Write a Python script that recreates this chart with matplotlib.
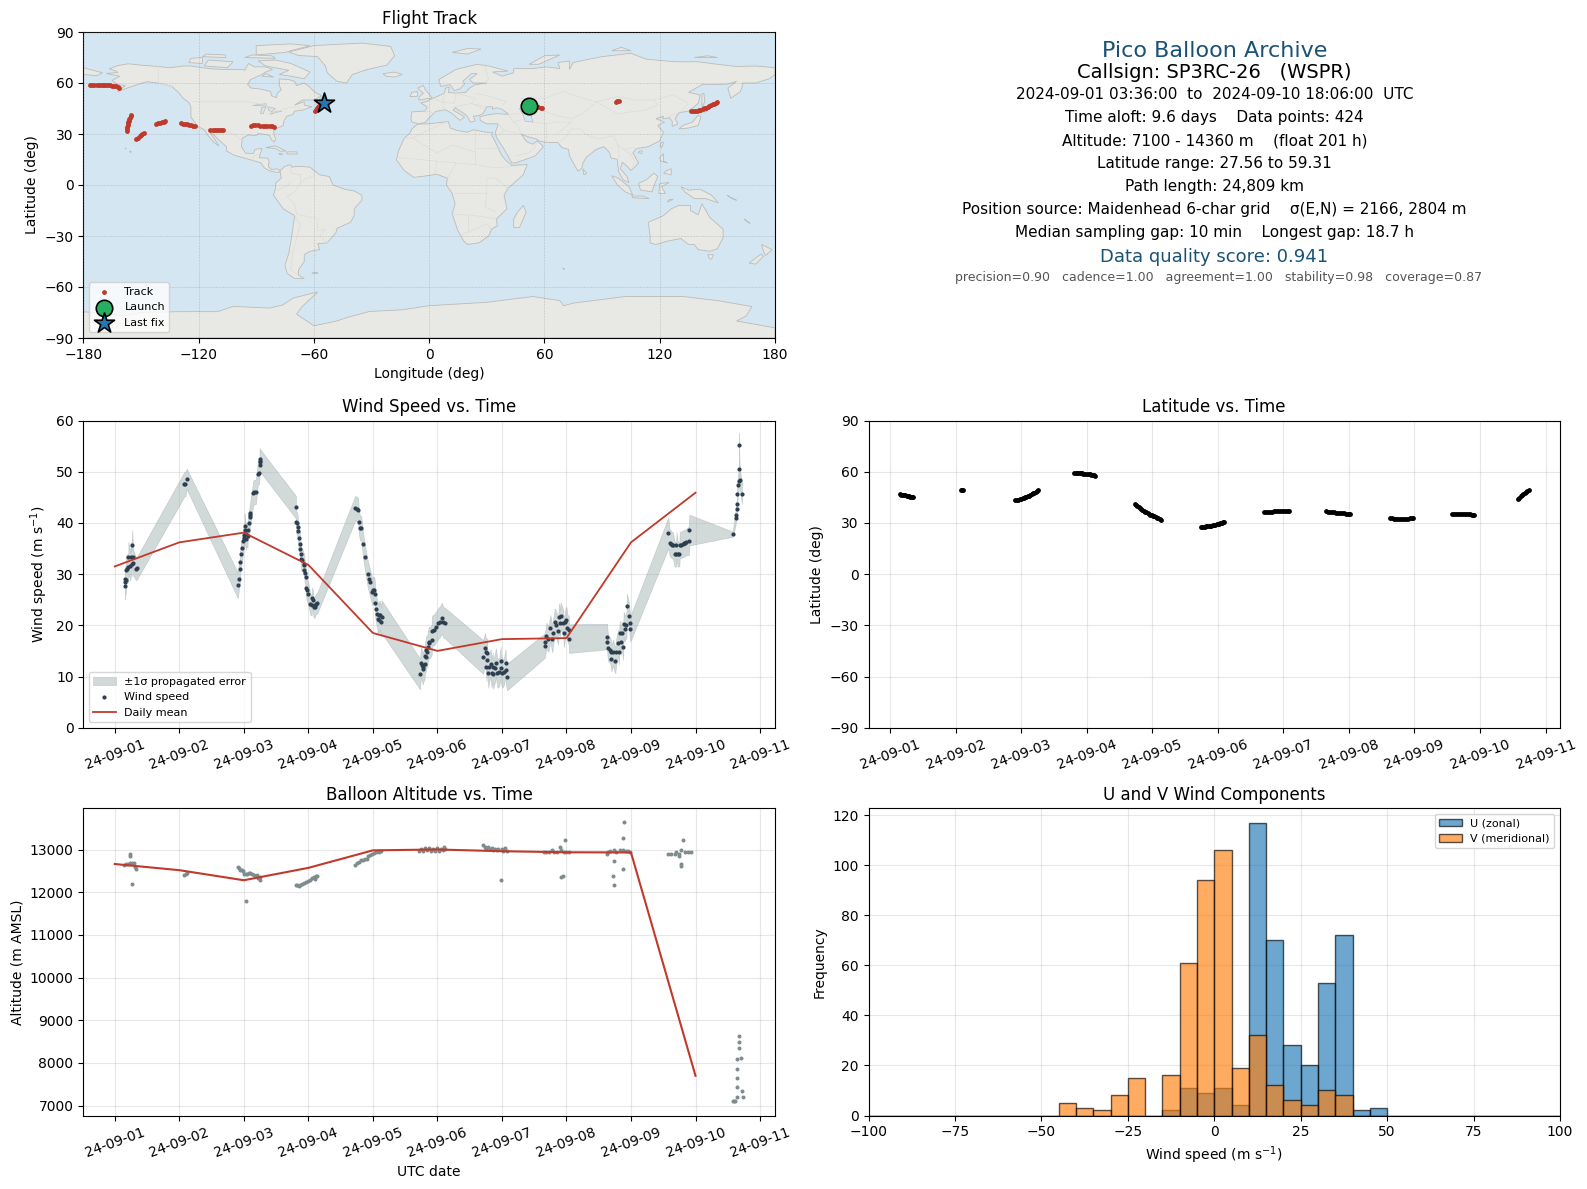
from datetime import datetime

import numpy as np
import matplotlib
matplotlib.use('Agg')
import matplotlib.pyplot as plt
import matplotlib.dates as mdates
from matplotlib.patches import Polygon

W, H = 1587, 1189

C_RED = '#c0392b'
C_DARK = '#2c3e50'
C_GREY = '#7f8c8d'
C_TITLE = '#1a5276'
C_OCEAN = '#d4e6f1'
C_LAND = '#e8e8e4'

# time axis = days since 2024-09-01 00:00 UTC
t0 = mdates.date2num(datetime(2024, 9, 1))

# wind speed, one row per flight segment
wind_t = [.155, .165, .16, .17, .175, .19, .21, .21, .27, .25, .28, .24, .26, .285, .33, .345,
          1.08, 1.095, 1.115,
          1.907, 1.92, 1.94, 1.943, 1.96, 1.975, 1.99, 1.995, 2.01, 2.015, 2.012, 2.036, 2.057, 2.038, 2.06, 2.08, 2.09, 2.1, 2.092, 2.145, 2.165, 2.186, 2.217, 2.238, 2.243, 2.253, 2.245, 2.258,
          2.806, 2.81, 2.82, 2.837, 2.84, 2.85, 2.87, 2.873, 2.884, 2.89, 2.904, 2.925, 2.935, 2.94, 2.95, 2.956, 2.97, 2.98, 3.0, 3.03, 3.05, 3.06, 3.07, 3.08, 3.1, 3.11, 3.125, 3.14,
          3.726, 3.747, 3.77, 3.783, 3.8, 3.82, 3.845, 3.876, 3.92, 3.938, 3.953, 3.99, 4.005, 4.02, 4.03, 4.035, 4.05, 4.066, 4.076, 4.09, 4.1, 4.11, 4.13, 4.135,
          4.73, 4.744, 4.76, 4.775, 4.78, 4.8, 4.81, 4.82, 4.83, 4.845, 4.85, 4.87, 4.876, 4.91, 4.917, 4.95, 4.98, 5.015, 5.04, 5.07, 5.09, 5.12,
          5.71, 5.737, 5.747, 5.763, 5.76, 5.77, 5.79, 5.8, 5.825, 5.84, 5.855, 5.866, 5.89, 5.907, 5.93, 5.96, 5.98, 5.985, 6.005, 6.03, 6.057, 6.06, 6.08,
          6.66, 6.675, 6.69, 6.72, 6.75, 6.78, 6.79, 6.82, 6.845, 6.87, 6.886, 6.9, 6.91, 6.95, 6.96, 6.985, 7.0, 7.015, 7.035, 7.04,
          7.63, 7.634, 7.645, 7.67, 7.686, 7.696, 7.72, 7.757, 7.77, 7.8, 7.81, 7.825, 7.84, 7.855, 7.875, 7.887, 7.9, 7.93, 7.935, 7.97, 7.98, 7.99,
          8.577, 8.6, 8.62, 8.63, 8.65, 8.675, 8.7, 8.705, 8.725, 8.75, 8.755, 8.77, 8.8, 8.82, 8.84, 8.855, 8.895, 8.905,
          9.577, 9.62, 9.625, 9.64, 9.642, 9.645, 9.66, 9.67, 9.675, 9.68, 9.69, 9.72]
wind_v = [27.6, 28.4, 29.1, 28.8, 30.8, 31, 31.3, 33.3, 35.6, 33.3, 33.3, 31.5, 32, 32.2, 31, 31.2,
          47.6, 47.6, 48.6,
          27.8, 29.1, 31, 32.4, 34, 35.1, 36.4, 37.1, 37.6, 38.7, 39.4, 36.9, 37.4, 37.8, 38.7, 40, 41.1, 41.9, 41.6, 45.9, 46, 46.1, 49.6, 49.8, 51.3, 51.8, 52.4, 52.1,
          43.1, 40.2, 40, 39.2, 38.4, 37, 35.9, 34.9, 33.9, 32.9, 32.8, 32, 31.8, 30.8, 30.2, 29.5, 27.3, 26.9, 26.1, 24.1, 23.9, 25.4, 24.9, 23.5, 23.5, 24, 24.2, 24.4,
          42.9, 42.7, 42.5, 40.2, 39, 39, 35.9, 33.3, 30, 29.1, 28.4, 26.5, 26.9, 26.9, 26.1, 24.4, 23.2, 22.2, 21.2, 22, 21, 22, 20.6, 21.7,
          10.5, 12.7, 12.2, 11.4, 11.9, 12.5, 14, 13.9, 15.1, 14.8, 15.8, 16.7, 16.5, 17.1, 18.9, 19.1, 19.7, 20.4, 20.7, 21.4, 20.6, 20.4,
          13.8, 15.5, 14.8, 14.5, 11.9, 13.2, 10.6, 11.8, 12.5, 10.6, 11.9, 10.4, 11.6, 12.7, 10.6, 10.9, 13, 11.6, 10.6, 10.9, 12.7, 11.2, 9.9,
          16, 16.8, 18, 17.3, 19.4, 17.3, 18.4, 20.7, 20, 18.8, 21.7, 20.4, 21.9, 20.4, 18.4, 20.7, 21, 19.4, 19.1, 17.4,
          17.8, 16.8, 15.5, 15.2, 14.8, 13.5, 14.7, 13.1, 14.8, 16.6, 14.8, 18.4, 16.7, 18.4, 15.7, 20.2, 19.3, 20.1, 23.7, 21.9, 20.4, 19.3,
          38, 36.1, 35.9, 35.7, 35.6, 33.9, 33.9, 35.6, 33.9, 33.9, 35.6, 35.7, 35.9, 36, 36.1, 36.3, 36.5, 38.6,
          37.8, 41, 41.6, 42.7, 43.7, 45.6, 47.5, 48.2, 55.3, 50.5, 48.3, 45.7]
wind_e = [2.5, 2.5, 2.5, 2.5, 2.8, 2.8, 2.8, 3, 3, 3, 2.8, 2.8, 2.5, 2.5, 2.2, 2.2,
          2.4, 2.4, 2,
          2.5, 2.5, 2.5, 2.4, 2.3, 2.2, 2.2, 2.2, 2.4, 2.5, 2.4, 2.2, 2.2, 2.3, 2.3, 2.2, 2.2, 2.2, 2.2, 2.4, 2.4, 2.4, 2.2, 2.2, 2.2, 2.2, 2.2, 2.2,
          2.2, 2.2, 2.2, 2.2, 2.2, 2.2, 2.2, 2.2, 2.2, 2.2, 2.2, 2.2, 2.2, 2.2, 2.2, 2.2, 2.2, 2.2, 2.2, 2.0, 2.0, 2.0, 2.0, 2.0, 2.0, 2.0, 2.0, 2.0,
          2.4, 2.4, 2.4, 2.4, 2.4, 2.4, 2.4, 2.4, 2.6, 2.6, 2.6, 2.6, 2.6, 2.6, 2.6, 2.8, 2.8, 2.8, 2.8, 2.8, 2.8, 2.8, 2.8, 3.2,
          3, 3, 3, 3, 3, 3, 3, 3, 3, 3, 3, 3, 3, 3, 3, 3, 3, 3, 3, 3, 3, 3,
          3.3, 3, 3, 3, 2.8, 2.8, 2.8, 2.8, 2.8, 2.8, 2.8, 2.8, 2.8, 2.8, 2.8, 2.8, 2.8, 2.8, 2.8, 2.6, 2.6, 2.6, 2.6,
          2.4, 2.4, 2.5, 2.5, 2.6, 2.6, 2.6, 2.6, 2.6, 2.6, 2.6, 2.6, 2.6, 2.6, 2.6, 2.6, 2.6, 2.6, 2.8, 2.8,
          2.5, 2.5, 2.5, 2.5, 2.5, 2.5, 2.5, 2.5, 2.5, 2.5, 2.5, 2.5, 2.5, 2.5, 2.5, 2.5, 2.5, 2.5, 2.5, 2.5, 2.5, 2.5,
          3, 2.6, 2.6, 2.6, 2.6, 2.4, 2.4, 2.6, 2.4, 2.4, 2.6, 2.6, 2.6, 2.6, 2.6, 2.6, 2.8, 3,
          .5, 1.5, 1.5, 1.8, 2, 2, 2, 2, 2.3, 2.2, 2, 2]

day_t = [0, 1, 2, 3, 4, 5, 6, 7, 8, 9]
wind_daily = [31.5, 36.2, 38.1, 31.8, 18.5, 15, 17.3, 17.5, 36.2, 45.9]
alt_daily = [12660, 12516, 12280, 12570, 12980, 13000, 12960, 12935, 12930, 7700]

alt_t = [.15, .176, .207, .238, .233, .233, .264, .27, .3, .32, .336,
         1.07, 1.096, 1.116,
         1.907, 1.92, 1.943, 1.97, 1.985, 2.0, 2.026, 2.03, 2.05, 2.078, 2.1, 2.13, 2.165, 2.2, 2.227, 2.243, 2.258,
         2.806, 2.827, 2.853, 2.873, 2.904, 2.935, 2.966, 3.0, 3.03, 3.06, 3.09, 3.1, 3.12, 3.14,
         3.73, 3.75, 3.78, 3.82, 3.845, 3.876, 3.91, 3.93, 3.96, 3.99, 4.02, 4.05, 4.09, 4.13,
         4.72, 4.75, 4.78, 4.81, 4.84, 4.87, 4.9, 4.93, 4.96, 4.99, 5.02, 5.05, 5.08, 5.1, 5.12,
         5.71, 5.737, 5.76, 5.79, 5.81, 5.84, 5.865, 5.89, 5.92, 5.94, 5.98, 5.995, 6.02, 6.046, 6.08,
         6.65, 6.69, 6.73, 6.77, 6.81, 6.855, 6.9, 6.917, 6.92, 6.94, 6.96, 6.985, 7.0, 7.035,
         7.63, 7.645, 7.68, 7.72, 7.73, 7.737, 7.737, 7.77, 7.825, 7.875, 7.875, 7.875, 7.89, 7.92, 7.955, 7.99,
         8.57, 8.62, 8.675, 8.7, 8.75, 8.75, 8.78, 8.78, 8.78, 8.8, 8.83, 8.88, 8.93,
         9.574, 9.595, 9.615, 9.636, 9.636, 9.636, 9.65, 9.65, 9.667, 9.667, 9.68, 9.7, 9.713, 9.73]
alt_v = [12648, 12656, 12672, 12695, 12852, 12890, 12203, 12680, 12680, 12594, 12555,
         12398, 12430, 12460,
         12600, 12570, 12516, 12523, 12492, 12422, 12430, 11789, 12430, 12460, 12453, 12422, 12398, 12398, 12336, 12297, 12367,
         12180, 12164, 12148, 12180, 12195, 12227, 12242, 12258, 12289, 12336, 12367, 12305, 12375, 12383,
         12648, 12688, 12711, 12750, 12750, 12789, 12789, 12852, 12867, 12898, 12914, 12930, 12930, 12961,
         12960, 13020, 12970, 13030, 12980, 13030, 12960, 13020, 12970, 13030, 12960, 13020, 12990, 13050, 13010,
         13100, 13060, 13023, 13060, 13008, 13040, 12984, 13023, 13000, 13023, 12297, 13008, 12969, 13040, 12960,
         12945, 12930, 12945, 13000, 12930, 12945, 13047, 12359, 12984, 12383, 12930, 13234, 12945, 12930,
         12883, 12930, 12960, 12391, 12984, 12742, 12180, 12945, 13000, 12984, 12555, 13258, 13633, 12960, 12960, 12930,
         12906, 12898, 12883, 12930, 12883, 12844, 13000, 12672, 12617, 13234, 12930, 12945, 12945,
         7098, 7105, 7113, 7660, 7426, 7215, 8105, 7848, 8503, 8340, 8628, 8128, 7333, 7215]

lat_t = [.15, .17, .19, .21, .23, .25, .27, .29, .31, .33, .345,
         1.08, 1.1, 1.115,
         1.91, 1.93, 1.95, 1.98, 2.0, 2.02, 2.04, 2.06, 2.08, 2.1, 2.12, 2.14, 2.16, 2.18, 2.2, 2.22, 2.24, 2.26,
         2.81, 2.83, 2.85, 2.87, 2.89, 2.91, 2.93, 2.95, 2.97, 3.0, 3.03, 3.05, 3.07, 3.09, 3.11, 3.13,
         3.73, 3.75, 3.77, 3.79, 3.81, 3.83, 3.85, 3.87, 3.89, 3.91, 3.93, 3.95, 3.97, 3.99, 4.01, 4.03, 4.05, 4.07, 4.09, 4.11, 4.13,
         4.74, 4.76, 4.78, 4.8, 4.82, 4.84, 4.86, 4.88, 4.9, 4.92, 4.94, 4.96, 4.98, 5.0, 5.02, 5.04, 5.06, 5.08, 5.1,
         5.71, 5.74, 5.77, 5.8, 5.83, 5.86, 5.89, 5.92, 5.95, 5.98, 6.01, 6.04, 6.07, 6.085,
         6.65, 6.68, 6.71, 6.74, 6.77, 6.8, 6.83, 6.86, 6.89, 6.92, 6.95, 6.98, 7.0, 7.02,
         7.63, 7.66, 7.69, 7.72, 7.75, 7.78, 7.81, 7.84, 7.87, 7.9, 7.93, 7.96, 7.98,
         8.57, 8.6, 8.63, 8.66, 8.69, 8.72, 8.75, 8.78, 8.81, 8.84, 8.87, 8.9, 8.91,
         9.58, 9.6, 9.62, 9.64, 9.66, 9.68, 9.7, 9.72, 9.74]
lat_v = [46.7, 46.6, 46.5, 46.3, 46.1, 46.0, 45.8, 45.6, 45.4, 45.2, 45.0,
         49.3, 49.4, 49.5,
         43.5, 43.6, 43.6, 43.8, 44, 44.3, 44.6, 44.9, 45.2, 45.6, 46, 46.5, 47, 47.4, 47.8, 48.2, 48.7, 49.2,
         59.3, 59.3, 59.3, 59.3, 59.2, 59.1, 59, 58.9, 58.8, 58.6, 58.5, 58.4, 58.2, 58, 57.9, 57.7,
         41, 40.4, 39.8, 39.2, 38.6, 38.1, 37.6, 37.1, 36.6, 36.1, 35.6, 35.2, 34.9, 34.5, 34.2, 33.8, 33.4, 33.1, 32.8, 32.3, 31.8,
         27.6, 27.7, 27.7, 27.8, 27.9, 28, 28.1, 28.2, 28.4, 28.5, 28.7, 28.9, 29.1, 29.3, 29.6, 29.8, 30, 30.3, 30.6,
         36.5, 36.5, 36.5, 36.6, 36.6, 36.7, 36.9, 37, 37, 37.1, 37.2, 37.2, 37.2, 37.2,
         36.7, 36.6, 36.4, 36.2, 36.1, 36, 36, 35.9, 35.8, 35.6, 35.5, 35.4, 35.3, 35.3,
         32.9, 32.7, 32.5, 32.4, 32.3, 32.3, 32.3, 32.4, 32.4, 32.5, 32.7, 32.9, 33,
         35.5, 35.5, 35.5, 35.5, 35.5, 35.5, 35.5, 35.4, 35.3, 35, 34.8, 34.6, 34.5,
         44.1, 44.8, 45.6, 46.2, 46.9, 47.6, 48.2, 48.7, 49]

# map track, in time order
track_lon = [52, 53.5, 55, 56.5, 58, 58.8,
             97, 97.8, 98.6,
             136.2, 137.2, 138.2, 139.2, 140.2, 141.2, 142.3, 143.2, 144, 144.9, 145.8, 146.7, 147.6, 148.4, 149.2, 150,
             -176.4, -175.3, -174.2, -173, -172, -171, -170, -169, -168, -167, -166, -165, -164, -163, -162.2, -161.5,
             -155, -155.4, -155.7, -156, -156.3, -156.5, -156.7, -156.9, -157.1, -157.3, -157.5,
             -152.4, -151.6, -150.7, -150, -149.2, -148.3,
             -142.4, -141.3, -140.2, -139.1, -138.2, -137.7,
             -129.4, -128.3, -127.2, -126.2, -125.2, -124.2, -123.1, -122,
             -113.8, -112.7, -111.6, -110.5, -109.4, -108.4, -107.4,
             -92.7, -91.5, -90.4, -89.2, -88, -86.6, -85.4, -84.2, -83, -82, -81,
             -59.4, -59, -58.5, -57.9, -57.5, -56.7, -55.8, -54.5]
track_lat = [46.5, 46.3, 46, 45.7, 45.5, 45.3,
             49.1, 49.4, 49.6,
             43.5, 43.6, 43.6, 43.7, 44, 44.3, 44.8, 45.1, 45.5, 45.9, 46.3, 46.9, 47.4, 47.9, 48.5, 49,
             58.9, 59, 59.1, 59.1, 59.1, 59.1, 59.1, 59, 59, 58.9, 58.7, 58.5, 58.3, 58, 57.5, 57.1,
             41.2, 40.4, 39.6, 38.7, 37.9, 37.1, 36.3, 35.4, 34.3, 33, 31.5,
             27.2, 27.9, 28.6, 29.2, 29.9, 30.7,
             36, 36.4, 36.7, 37, 37.3, 37.4,
             36.2, 36.1, 35.9, 35.7, 35.5, 35.3, 35, 34.6,
             32.5, 32.5, 32.5, 32.5, 32.5, 32.5, 32.5,
             35, 35.1, 35.1, 35.1, 35, 35, 35, 34.9, 34.7, 34.5, 34.2,
             43.6, 44.3, 45.2, 45.8, 46.2, 47, 47.6, 48.3]
launch_pos = [51.8, 46.5]
last_pos = [-54.5, 48.3]

# histogram counts, 5 m/s bins
bin_edges = list(range(-100, 105, 5))
u_counts = [0] * 17 + [2, 11, 9, 11, 4, 117, 70, 28, 20, 53, 72, 2, 3] + [0] * 10
v_counts = [0] * 11 + [5, 3, 2, 8, 15, 0, 16, 61, 94, 106, 19, 32, 12, 6, 4, 10, 8] + [0] * 12

# land outlines, lon/lat
north_america = [(-168, 65.6), (-162, 66.2), (-163, 67), (-166.5, 68.4), (-162, 70.3), (-156.5, 71.3), (-150, 70.5), (-141, 69.7), (-135, 69), (-128, 70), (-124, 70), (-115, 68.5), (-108, 68), (-98, 68), (-96, 67.5), (-94, 71.5), (-91, 69.5), (-85, 69.5), (-81.5, 68), (-85, 66.5), (-87, 65), (-93, 62), (-94.5, 59), (-92.5, 57), (-88, 56.5), (-82.5, 55), (-82, 52.5), (-79.5, 51.3), (-79, 54), (-77, 56), (-78, 58.5), (-78, 62.4), (-73, 62), (-70, 61), (-69, 58.5), (-65, 60), (-62, 57.5), (-60, 55), (-56, 52.5), (-60, 50), (-66, 50), (-70, 47), (-65, 49), (-65, 47), (-61, 46), (-66, 44), (-70, 43.5), (-71, 41.5), (-74, 40.5), (-75.5, 38), (-76, 35), (-79, 33.5), (-81, 31.5), (-80, 27), (-80.5, 25.2), (-82, 26.5), (-83, 29), (-85, 29.7), (-89, 30.3), (-90, 29), (-94, 29.5), (-97.3, 27.5), (-97.7, 22.5), (-95.5, 18.7), (-91.5, 18.5), (-90.5, 21), (-87, 21.5), (-88, 18), (-88.5, 16), (-84, 15.8), (-83.3, 14), (-83.7, 11), (-82, 9), (-79.5, 9.5), (-77.5, 8.6), (-78, 7.5), (-80, 7.5), (-83, 8.3), (-85.7, 10), (-87.5, 13), (-92, 14.5), (-96, 15.8), (-101.5, 17.5), (-105.5, 20), (-105.5, 22.5), (-109, 26), (-112.5, 30), (-114.5, 31.5), (-112, 27.5), (-110, 24), (-109.5, 23), (-112, 25), (-115, 29), (-117, 32.5), (-120.5, 34.5), (-124, 40), (-124, 46), (-125, 48.5), (-128, 51), (-130.5, 54.5), (-134, 58), (-140, 59.8), (-147, 60.8), (-152, 59), (-156, 57.5), (-162, 55), (-158, 58.5), (-162, 59), (-165, 61.5), (-161, 64)]
greenland = [(-73, 78.2), (-60, 82), (-35, 83.5), (-20, 81.5), (-18, 76), (-22, 70.5), (-32, 68), (-40, 65), (-43, 60), (-48, 61), (-53, 66), (-54, 70), (-58, 75.5), (-68, 76.2)]
south_america = [(-77.5, 8.6), (-75, 11), (-72, 12), (-71.5, 10.5), (-68, 11), (-62, 10.5), (-57, 6), (-52, 5), (-50, 0), (-44, -2.5), (-39, -3.5), (-35, -6), (-35, -9), (-39, -14), (-39, -18), (-41, -22), (-48, -25.5), (-48.5, -28), (-53, -34), (-58, -34.5), (-57, -38), (-62, -39), (-65, -41), (-65, -45), (-68, -50), (-68, -53), (-65, -55), (-70, -55), (-74, -52), (-75, -47), (-73, -40), (-71.5, -30), (-70, -18), (-76, -14), (-81, -6), (-80, -2), (-80, 1), (-77, 4), (-77.5, 7.5)]
africa = [(-6, 35.8), (0, 36), (10, 37.3), (11, 33.5), (15, 32), (20, 31), (23, 32.5), (30, 31), (33, 31), (32.5, 29.5), (35, 24), (37.5, 18), (39.5, 15), (43, 11.5), (51, 12), (49, 6), (41, -2), (39, -6), (40.5, -14), (35, -20), (35.5, -24), (32.5, -26), (31, -30), (26, -34), (20, -35), (18, -33), (15, -27), (12, -17), (13.5, -11), (12, -5), (9, 0), (9.5, 4), (4, 6.3), (-4, 5), (-8, 4.5), (-13, 8.5), (-17, 14.7), (-16, 20), (-13, 27.5), (-10, 30.5), (-9, 33)]
eurasia = [(-5.5, 36), (-9, 37), (-9.5, 39), (-9, 43), (-2, 43.5), (-1, 46), (-4.5, 48.4), (-1.5, 49), (2, 51), (4, 52), (8, 54), (8.5, 57), (10.5, 57.5), (10, 54.5), (14, 54), (19, 54.5), (21, 57), (24, 59), (30, 60), (23, 60), (21, 62), (25, 65.5), (22, 65.5), (17.5, 61), (18.5, 59.5), (16, 56.5), (13, 55.5), (11, 59), (6, 58), (5, 62), (14, 68), (25, 71), (31, 70), (41, 67), (33, 66.5), (38, 64), (44, 66), (44, 68.5), (54, 68.5), (61, 69.5), (68, 68.5), (67, 72), (73, 73), (73, 68), (75, 72), (81, 73.5), (90, 75.5), (105, 77.5), (113, 74), (128, 72.5), (140, 72.5), (150, 71), (160, 69.7), (170, 70), (180, 69), (180, 65), (177, 62.5), (170, 60), (163, 60), (163, 58), (162, 55), (157, 51), (155.5, 57), (160, 61), (155, 59.3), (142, 59), (135, 54.5), (141, 53), (140, 48), (135, 43.5), (130, 42.5), (128, 39), (129.5, 36), (126.5, 34.5), (126.5, 37.5), (125, 39.5), (121.5, 39), (122, 40.5), (118, 39), (122.5, 37), (119, 35), (122, 31), (120, 26), (114, 22.5), (108, 21.5), (106, 19), (109, 13), (107, 10.5), (105, 8.6), (103, 11), (100.5, 13.5), (99.5, 9.5), (103, 5), (104, 1.5), (101, 3), (98.5, 8), (98, 15), (94.5, 16), (94, 19), (91, 22.5), (87, 21), (82, 16.5), (80, 13), (79.5, 10), (77.5, 8), (73, 17), (72.5, 21), (69, 22), (67, 25), (61.5, 25), (57, 26), (56, 27), (51, 28.5), (48, 30), (50, 26.5), (51.5, 25), (54, 24), (56.3, 26), (59.5, 22.5), (55, 17), (45, 13), (43, 13), (39, 21), (35, 28), (34.5, 31), (36, 36), (30, 36), (26.5, 38), (26.5, 40), (29, 41), (35, 42), (41.5, 41.5), (38, 44.5), (35, 45.5), (33, 44.5), (33, 46), (30, 46), (28, 42), (26, 40.8), (23, 40.5), (24, 37.7), (21.5, 37), (19.5, 41), (13.5, 45.5), (12.5, 44), (18.5, 40), (16, 38), (12, 42), (8.5, 44.3), (3.5, 43.3), (0, 39.5), (-2, 36.8)]
australia = [(114, -22), (122, -18), (126, -14), (130, -12), (136, -12), (136, -15), (140, -17.5), (142, -11), (146, -19), (153, -26), (153, -31), (150, -37.5), (146, -39), (140, -38), (138, -35), (135, -35), (131, -31.5), (124, -33), (118, -35), (115, -34), (115, -30)]
antarctica = [(-180, -90), (-180, -74.5), (-158, -77), (-150, -75), (-130, -74.5), (-110, -74.5), (-102, -71.4), (-83, -72.4), (-76, -70.5), (-71, -66.6), (-62, -64), (-58, -63), (-66, -71.4), (-69, -76), (-60, -82.8), (-48, -80), (-43, -78), (-31, -74.4), (-14, -73.4), (0, -71), (30, -69), (54, -65.6), (68, -68), (70, -71), (75, -69.5), (102, -65.6), (132, -65.6), (150, -68), (168, -71.5), (165, -77), (160, -80), (180, -84), (180, -90)]
islands = [
    [(-180, 69), (-175, 67.5), (-170, 66), (-173, 64.3), (-180, 65)],
    [(-80, 73.5), (-72, 71.5), (-62, 66.5), (-65, 62.5), (-72, 64), (-78, 65), (-73, 67.5), (-85, 70), (-89, 73)],
    [(-117, 70), (-105, 69), (-102, 72.5), (-115, 73.5)],
    [(-125, 72), (-118, 71.5), (-118, 75), (-124, 74.5)],
    [(-90, 76.5), (-75, 78), (-62, 82), (-72, 83), (-90, 82)],
    [(-96, 75), (-80, 74.5), (-82, 76), (-92, 76.5)],
    [(-118, 75.5), (-106, 75), (-106, 76.5), (-116, 77)],
    [(-87, 64), (-81, 63.5), (-85, 65.5)],
    [(-59, 47.7), (-53, 46.7), (-53, 49), (-56, 51.5)],
    [(-85, 22), (-80, 23), (-74.5, 20), (-77.5, 19.9), (-80, 21.5)],
    [(-74, 19.5), (-69, 19.5), (-68.5, 18.3), (-74, 18.2)],
    [(-78.3, 18.4), (-76.3, 18.2), (-77, 17.8)],
    [(-156, 20), (-155, 19.7), (-155.5, 19)],
    [(-158.2, 21.6), (-157.7, 21.4), (-158, 21.2)],
    [(-61, -52), (-58, -52), (-58, -51.5), (-60, -51.3)],
    [(-5.5, 50), (1.5, 51.2), (0, 53.5), (-2, 56), (-3, 58.6), (-6, 57), (-3, 54), (-5, 52)],
    [(-10, 52), (-6, 52.2), (-6, 55), (-9, 54.5)],
    [(-24, 65.5), (-18, 66.4), (-14, 65), (-18, 63.5), (-22.5, 64)],
    [(12, 78), (20, 80.3), (27, 80), (20, 77)],
    [(52, 71), (57, 71), (68, 76.5), (60, 76)],
    [(95, 79), (105, 79), (100, 81)],
    [(138, 75), (150, 75), (145, 76)],
    [(142, 46), (143.5, 49), (143, 54), (142, 53.5)],
    [(140, 42), (145, 43.5), (142, 45.5)],
    [(130, 33), (135, 33.5), (140, 35), (141.5, 40), (140, 41), (137, 37), (132, 35)],
    [(120, 23), (121, 22), (122, 25), (121, 25.2)],
    [(108.7, 19), (110.5, 18.5), (111, 20), (109.5, 20)],
    [(120, 16), (122, 18.5), (122, 14), (124, 13), (120.5, 14)],
    [(122, 7), (126, 6), (126, 9.5), (123.5, 8.5)],
    [(95, 5.5), (98.5, 4), (104, -1), (106, -6), (102, -4), (98, 0)],
    [(105.5, -6.5), (111, -6.5), (114.5, -8), (106, -7.5)],
    [(109, 1), (113, 3), (117, 7), (119, 5), (117.5, 1), (116, -4), (110, -3)],
    [(119.5, -5), (120, 0.8), (125, 1.5), (121, -1), (123, -5)],
    [(131, -1), (135, -3), (141, -2.5), (147, -6), (150.5, -10.5), (144, -8), (138, -8), (133, -4)],
    [(124, -10), (127, -8.5), (125, -8.5)],
    [(173, -35), (178.5, -38), (175, -41.5), (174, -39)],
    [(172.5, -40.7), (174, -42), (170, -46.5), (166.5, -46)],
    [(145, -41), (148, -41), (147, -43.5), (146, -43.5)],
    [(80, 9.5), (82, 7), (80.5, 6)],
    [(49, -12), (50.5, -16), (47, -25), (44, -25), (44, -20), (46, -16)],
    [(69, -49), (70, -49), (70, -49.5)],
    [(155, -6), (158, -8), (160, -9), (157, -7.5)],
    [(164, -20), (167, -22.5), (166, -22)],
]
inland_water = [
    [(47, 45), (51, 46.5), (53, 45), (51, 43), (53, 41), (54, 37), (50, 37.5), (49, 41)],
    [(-92, 46.8), (-85, 47.8), (-84.7, 46.5), (-88, 46.6)],
    [(-87.8, 42), (-86.4, 42), (-85, 46), (-87, 45.7)],
    [(-84, 46), (-80, 45), (-82, 43), (-83.5, 44)],
    [(-83, 41.6), (-79, 42.8), (-76.5, 43.5), (-79.5, 43.4)],
]
borders = [
    [(-123, 49), (-95, 49), (-89, 48), (-83, 46), (-82.5, 42.5), (-79, 43), (-75, 45), (-70, 46), (-67, 45)],
    [(-141, 69.7), (-141, 60), (-134, 58)],
    [(-117, 32.5), (-106, 31.7), (-101, 29.5), (-97.3, 25.9)],
    [(-92, 14.5), (-91, 17.5), (-88, 18)],
    [(-72, 12), (-72, 7), (-67, 6), (-67, 1), (-70, -4), (-74, -7), (-70, -11), (-69, -17), (-58, -20), (-58, -27), (-54, -26), (-57, -30), (-53, -34)],
    [(-60, 8), (-60, 5), (-64, 4), (-67, 1)],
    [(-80, -3.5), (-75, -1), (-72, 1)],
    [(-70, -18), (-67, -23), (-71, -40), (-72, -50), (-68, -53)],
    [(-8.7, 27.7), (-1, 32), (9, 37)],
    [(-13, 27.5), (-8.7, 27.7), (4, 19), (12, 23.5), (24, 19.5), (24, 31)],
    [(25, 22), (37, 22)],
    [(-16, 16), (-5, 15), (4, 14), (14, 13), (24, 12), (35, 10), (43, 11)],
    [(3, 6.3), (4, 14)],
    [(14, 13), (9.5, 4)],
    [(24, 12), (24, 19.5)],
    [(13, -5), (30, -5), (30, 4), (35, 4), (41, -2)],
    [(12, -17), (24, -18), (35, -20)],
    [(20, -28), (20, -18)],
    [(17, -29), (30, -23), (32.5, -26)],
    [(30, -5), (29, -13), (35, -16)],
    [(2, 51), (8, 48), (7, 44)],
    [(-2, 43.5), (3, 42.5)],
    [(8, 54), (7, 49), (13, 48), (14, 54)],
    [(14, 54), (24, 51), (22, 48), (13, 46)],
    [(28, 60), (31, 62), (29, 70)],
    [(24, 54), (32, 52), (40, 49), (38, 47)],
    [(28, 45), (22, 48), (30, 46)],
    [(47.5, 42), (41, 41.5), (44, 37), (48, 38.5)],
    [(47, 51), (60, 51), (70, 55), (80, 51), (87, 49), (98, 52), (107, 50), (117, 50), (127, 53), (135, 48), (131, 43)],
    [(53, 41), (56, 45), (66, 41), (74, 39), (80, 42), (87, 49)],
    [(54, 37), (61, 36), (66, 37), (74, 37)],
    [(48, 30), (46, 35), (44, 37)],
    [(61, 36), (61, 30), (61.5, 25)],
    [(66, 30), (71, 34), (74, 37)],
    [(67, 25), (71, 28), (74, 33), (79, 33), (81, 30), (88, 27), (96, 29), (98, 24), (101, 21), (106, 22), (108, 21.5)],
    [(87, 49), (98, 42), (112, 44), (119, 47), (117, 50)],
    [(98, 24), (99, 16), (98, 15)],
    [(101, 21), (105, 18), (107, 14), (106, 11)],
    [(39, 32), (36, 29)],
    [(48, 30), (39, 32), (36, 36)],
    [(45, 17), (52, 19), (55, 22), (56, 25)],
    [(124, 40), (130, 42.5)],
]


def axes_px(left, top, right, bottom):
    # axes from pixel box, y measured from the top of the figure
    return fig.add_axes([left / W, 1 - bottom / H, (right - left) / W, (bottom - top) / H])


def date_axis(ax, xlim):
    ax.set_xlim(t0 + xlim[0], t0 + xlim[1])
    ax.xaxis.set_major_locator(mdates.DayLocator())
    ax.xaxis.set_major_formatter(mdates.DateFormatter('%y-%m-%d'))
    ax.tick_params(axis='x', labelrotation=20)
    ax.grid(True, alpha=0.3)


fig = plt.figure(figsize=(W / 100, H / 100), dpi=100)

# flight track
ax = axes_px(83.3, 32, 775, 338)
ax.set_facecolor(C_OCEAN)
for poly in [north_america, greenland, south_america, africa, eurasia, australia, antarctica] + islands:
    ax.add_patch(Polygon(poly, closed=True, fc=C_LAND, ec='#bcbcb8', lw=0.6, zorder=1))
for poly in inland_water:
    ax.add_patch(Polygon(poly, closed=True, fc=C_OCEAN, ec='#bcbcb8', lw=0.5, zorder=1.1))
for line in borders:
    xy = np.array(line)
    ax.plot(xy[:, 0], xy[:, 1], color='#dcdcd8', lw=0.5, zorder=1.2)
ax.scatter(track_lon, track_lat, s=6, color=C_RED, zorder=3, label='Track')
ax.scatter(*launch_pos, s=140, color='#27ae60', edgecolor='black', lw=1.2, zorder=4, label='Launch')
ax.scatter(*last_pos, s=230, marker='*', color='#2278b5', edgecolor='black', lw=1.2, zorder=5, label='Last fix')
ax.set_xlim(-180, 180)
ax.set_ylim(-90, 90)
ax.set_xticks(range(-180, 181, 60))
ax.set_yticks(range(-90, 91, 30))
ax.grid(True, color='gray', ls='--', lw=0.4, alpha=0.4, zorder=2)
ax.set_axisbelow(False)
ax.set_title('Flight Track')
ax.set_xlabel('Longitude (deg)')
ax.set_ylabel('Latitude (deg)')
ax.legend(loc='lower left', fontsize=8)

# summary text
summary = [
    ('Pico Balloon Archive', 50.6, 16, C_TITLE),
    ('Callsign: SP3RC-26   (WSPR)', 72.9, 14, 'black'),
    ('2024-09-01 03:36:00  to  2024-09-10 18:06:00  UTC', 94.1, 11, 'black'),
    ('Time aloft: 9.6 days    Data points: 424', 117.4, 11, 'black'),
    ('Altitude: 7100 - 14360 m    (float 201 h)', 140.7, 11, 'black'),
    ('Latitude range: 27.56 to 59.31', 163.2, 11, 'black'),
    ('Path length: 24,809 km', 186.4, 11, 'black'),
    ('Position source: Maidenhead 6-char grid    σ(E,N) = 2166, 2804 m', 209.6, 11, 'black'),
    ('Median sampling gap: 10 min    Longest gap: 18.7 h', 232.8, 11, 'black'),
    ('Data quality score: 0.941', 257, 13, C_TITLE),
    ('precision=0.90   cadence=1.00   agreement=1.00   stability=0.98   coverage=0.87', 277.5, 9, '#555555'),
]
for txt, y, size, col in summary:
    x = 1218.6 if txt.startswith('precision') else 1214.4
    fig.text(x / W, 1 - y / H, txt, ha='center', va='center', fontsize=size, color=col)

# wind speed
ax = axes_px(83.3, 420.5, 775, 727.7)
order = np.argsort(wind_t, kind='stable')
wt = np.array(wind_t)[order] + t0
wv = np.array(wind_v)[order]
we = np.array(wind_e)[order]
ax.fill_between(wt, wv - we, wv + we, color='#95a5a6', alpha=0.42, lw=0.5, label='±1σ propagated error')
ax.scatter(wt, wv, s=4, color=C_DARK, zorder=3, label='Wind speed')
ax.plot(np.array(day_t) + t0, wind_daily, color=C_RED, lw=1.3, zorder=4, label='Daily mean')
date_axis(ax, (-0.488, 10.232))
ax.set_ylim(0, 60)
ax.set_title('Wind Speed vs. Time')
ax.set_ylabel('Wind speed (m s$^{-1}$)')
ax.legend(loc='lower left', fontsize=8)

# latitude
ax = axes_px(868.5, 420.5, 1560, 727.7)
ax.scatter(np.array(lat_t) + t0, lat_v, s=6, color='black', zorder=3)
date_axis(ax, (-0.33, 10.22))
ax.set_ylim(-90, 90)
ax.set_yticks(range(-90, 91, 30))
ax.set_title('Latitude vs. Time')
ax.set_ylabel('Latitude (deg)')

# altitude
ax = axes_px(83.3, 808.3, 775, 1115.5)
ax.scatter(np.array(alt_t) + t0, alt_v, s=3.5, color=C_GREY, zorder=3)
ax.plot(np.array(day_t) + t0, alt_daily, color=C_RED, lw=1.5, zorder=4)
date_axis(ax, (-0.488, 10.232))
ax.set_ylim(6770, 13965)
ax.set_yticks(range(7000, 13001, 1000))
ax.set_title('Balloon Altitude vs. Time')
ax.set_xlabel('UTC date')
ax.set_ylabel('Altitude (m AMSL)')

# wind components
ax = axes_px(868.5, 808.3, 1560, 1115.5)
lefts = bin_edges[:-1]
ax.bar(lefts, u_counts, width=5, align='edge', color='#1f77b4', alpha=0.65, edgecolor='black', lw=1, label='U (zonal)')
ax.bar(lefts, v_counts, width=5, align='edge', color='#ff7f0e', alpha=0.65, edgecolor='black', lw=1, label='V (meridional)')
ax.set_xlim(-100, 100)
ax.set_ylim(0, 122.85)
ax.grid(True, alpha=0.3)
ax.set_axisbelow(True)
ax.set_title('U and V Wind Components')
ax.set_xlabel('Wind speed (m s$^{-1}$)')
ax.set_ylabel('Frequency')
ax.legend(loc='upper right', fontsize=8)

fig.savefig('out.png', dpi=100)
